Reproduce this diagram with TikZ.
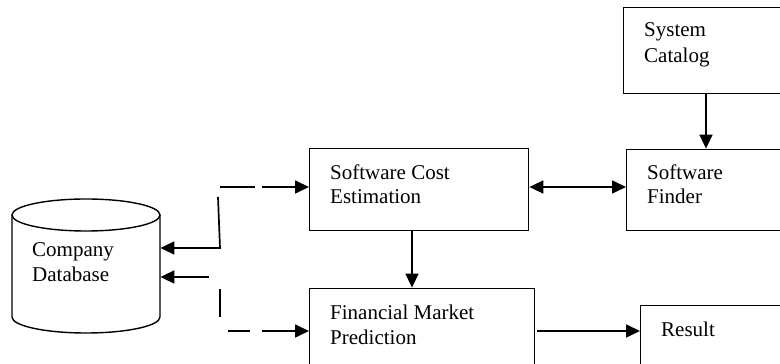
\documentclass[tikz,border=0pt]{standalone}
\usepackage{fontspec}
\setmainfont{Liberation Serif}
\usetikzlibrary{arrows.meta}
\tikzset{
  box/.style={draw, line width=1.4pt, rectangle, inner sep=0pt, anchor=south west},
  lbl/.style={anchor=base west, inner sep=0pt, font=\fontsize{21}{24}\selectfont},
  conn/.style={line width=1.7pt, -{Triangle[length=14pt,width=13pt]}},
  plain/.style={line width=1.5pt},
  bidir/.style={line width=1.7pt, {Triangle[length=14pt,width=13pt]}-{Triangle[length=14pt,width=13pt]}}
}
\begin{document}
\begin{tikzpicture}[x=1pt,y=1pt]
\useasboundingbox (0,0) rectangle (780,364);
\clip (0,0) rectangle (780,364);
% boxes
\node[box, minimum width=197pt, minimum height=86pt] (sc) at (623,270) {};
\node[box, minimum width=194pt, minimum height=81pt] (sf) at (626,133) {};
\node[box, minimum width=219pt, minimum height=82pt] (sce) at (309,133) {};
\node[box, minimum width=225pt, minimum height=91pt] (fmp) at (309,-16) {};
\node[box, minimum width=180pt, minimum height=74pt] (res) at (640,-16) {};
% cylinder
\draw[line width=1.4pt] (86,149) ellipse [x radius=74pt, y radius=16pt];
\draw[line width=1.4pt] (12,149) -- (12,47) arc[start angle=180, end angle=360, x radius=74pt, y radius=16pt] -- (160,149);
\node[rectangle, inner sep=0pt, minimum width=148pt, minimum height=134pt, anchor=south west] (db) at (12,31) {};
% labels
\node[lbl] (tsc) at (644,327) {System};
\node[lbl] (tsc2) at (644,301) {Catalog};
\node[lbl] (tsce) at (330,184) {Software Cost};
\node[lbl] (tsce2) at (330,160) {Estimation};
\node[lbl] (tsf) at (647,184) {Software};
\node[lbl] (tsf2) at (647,160) {Finder};
\node[lbl] (tfmp) at (330,44) {Financial Market};
\node[lbl] (tfmp2) at (330,19) {Prediction};
\node[lbl] (tres) at (661,27) {Result};
\node[lbl] (tdb) at (32,107) {Company};
\node[lbl] (tdb2) at (32,82) {Database};
% connectors
\draw[conn] (sc.south -| 706,0) -- (sf.north -| 706,0);
\draw[bidir] (sce.east |- 0,177) -- (sf.west |- 0,177);
\draw[conn] (sce.south -| 412,0) -- (fmp.north -| 412,0);
\draw[conn] (537,33) -- (res.west |- 0,33);
% left side connectors
\coordinate (a1) at (220,177);
\coordinate (a2) at (255,177);
\coordinate (a3) at (262,177);
\draw[plain] (a1) -- (a2);
\draw[conn] (a3) -- (sce.west |- a3);
\coordinate (b1) at (218,167);
\coordinate (b2) at (220,116);
\draw[conn] (b1) -- (b2) -- (db.east |- b2);
\coordinate (c1) at (209,87);
\draw[conn] (c1) -- (db.east |- c1);
\coordinate (d1) at (220,75);
\coordinate (d2) at (220,47);
\draw[plain] (d1) -- (d2);
\coordinate (e1) at (228,33);
\coordinate (e2) at (250,33);
\coordinate (e3) at (262,33);
\draw[plain] (e1) -- (e2);
\draw[conn] (e3) -- (fmp.west |- e3);
\end{tikzpicture}
\end{document}
